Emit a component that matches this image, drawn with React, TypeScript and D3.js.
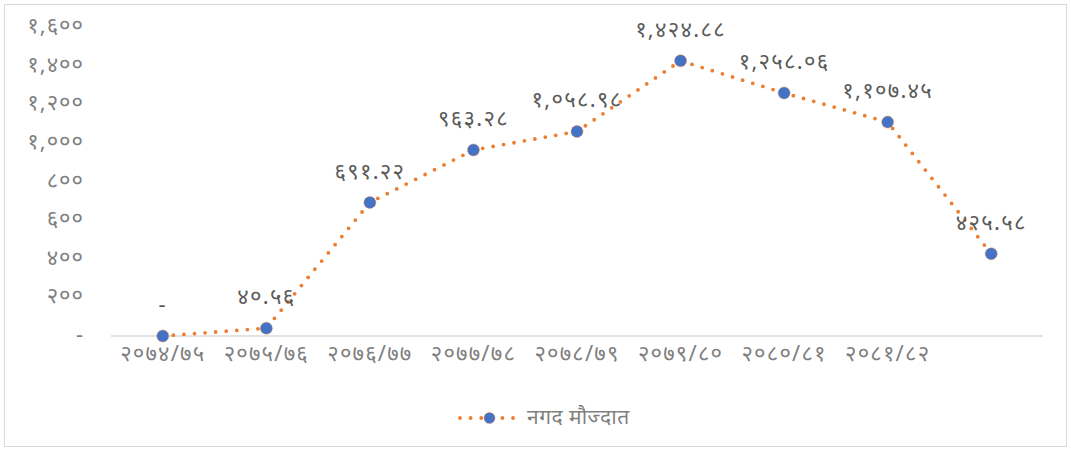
import { useEffect } from "react";
import { scaleBand, scaleLinear, line } from "d3";

const categories = [
  "२०७४/७५",
  "२०७५/७६",
  "२०७६/७७",
  "२०७७/७८",
  "२०७८/७९",
  "२०७९/८०",
  "२०८०/८१",
  "२०८१/८२",
  "",
];
const values = [0, 40.56, 691.22, 963.28, 1058.98, 1424.88, 1258.06, 1107.45, 425.58];
const yTicks = [0, 200, 400, 600, 800, 1000, 1200, 1400, 1600];
const seriesName = "नगद मौज्दात";

const W = 1071;
const H = 451;
const FONT = "'Noto Sans', 'Noto Sans Devanagari', 'Lohit Devanagari', sans-serif";
const AXIS_TEXT = "#7f7f7f";
const LABEL_TEXT = "#595959";
const ORANGE = "#ED7D31";
const BLUE = "#4472C4";
const FS = 22;

const devDigits = "०१२३४५६७८९";
const toDev = (s: string) => s.replace(/[0-9]/g, (d) => devDigits[+d]);

const fmtTick = (v: number) =>
  v === 0 ? "-" : toDev(v.toLocaleString("en-US"));
const fmtLabel = (v: number) =>
  v === 0
    ? "-"
    : toDev(
        v.toLocaleString("en-US", {
          minimumFractionDigits: 2,
          maximumFractionDigits: 2,
        })
      );

const App = () => {
  useEffect(() => {
    document.body.style.margin = "0";
  }, []);

  const keys = categories.map((c, i) => i + "|" + c);
  const x = scaleBand<string>().domain(keys).range([111, 1043]);
  const cx = (i: number) => x(keys[i])! + x.bandwidth() / 2;

  const y = scaleLinear().domain([0, 1600]).range([336, 27]);

  const path = line<number>()
    .x((_, i) => cx(i))
    .y((d) => y(d))(values);

  return (
    <svg width={W} height={H} style={{ display: "block" }} fontFamily={FONT}>
      <rect x={0} y={0} width={W} height={H} fill="#fff" />
      <rect x={4.5} y={4.5} width={W - 9} height={H - 9} fill="none" stroke="#d9d9d9" />

      {/* y axis labels */}
      {yTicks.map((t) => (
        <text
          key={t}
          x={84}
          y={y(t) + 6}
          textAnchor="end"
          fontSize={FS}
          letterSpacing={1}
          fill={AXIS_TEXT}
        >
          {fmtTick(t)}
        </text>
      ))}

      {/* baseline */}
      <line x1={111} x2={1043} y1={y(0)} y2={y(0)} stroke="#d9d9d9" strokeWidth={1.3} />

      {/* x axis labels */}
      {categories.map((c, i) => (
        <text
          key={i}
          x={cx(i)}
          y={361}
          textAnchor="middle"
          fontSize={FS}
          letterSpacing={1.2}
          fill={AXIS_TEXT}
        >
          {c}
        </text>
      ))}

      {/* series line */}
      <path
        d={path!}
        fill="none"
        stroke={ORANGE}
        strokeWidth={3.8}
        strokeLinecap="round"
        strokeDasharray="0 10.6"
      />

      {/* markers */}
      {values.map((v, i) => (
        <circle
          key={i}
          cx={cx(i)}
          cy={y(v)}
          r={6}
          fill={BLUE}
          stroke={ORANGE}
          strokeWidth={0.8}
          strokeDasharray="1 1"
        />
      ))}

      {/* data labels */}
      {values.map((v, i) => (
        <text
          key={i}
          x={cx(i)}
          y={y(v) - 24}
          textAnchor="middle"
          fontSize={FS}
          letterSpacing={1.3}
          fill={LABEL_TEXT}
        >
          {fmtLabel(v)}
        </text>
      ))}

      {/* legend */}
      <g>
        <path
          d="M460,418 L519,418"
          stroke={ORANGE}
          strokeWidth={3.8}
          strokeLinecap="round"
          strokeDasharray="0 10.6"
        />
        <circle
          cx={489.5}
          cy={418}
          r={5.5}
          fill={BLUE}
          stroke={ORANGE}
          strokeWidth={0.8}
          strokeDasharray="1 1"
        />
        <text x={527} y={424} fontSize={21} letterSpacing={0.5} fill={AXIS_TEXT}>
          {seriesName}
        </text>
      </g>
    </svg>
  );
};

export default App;
